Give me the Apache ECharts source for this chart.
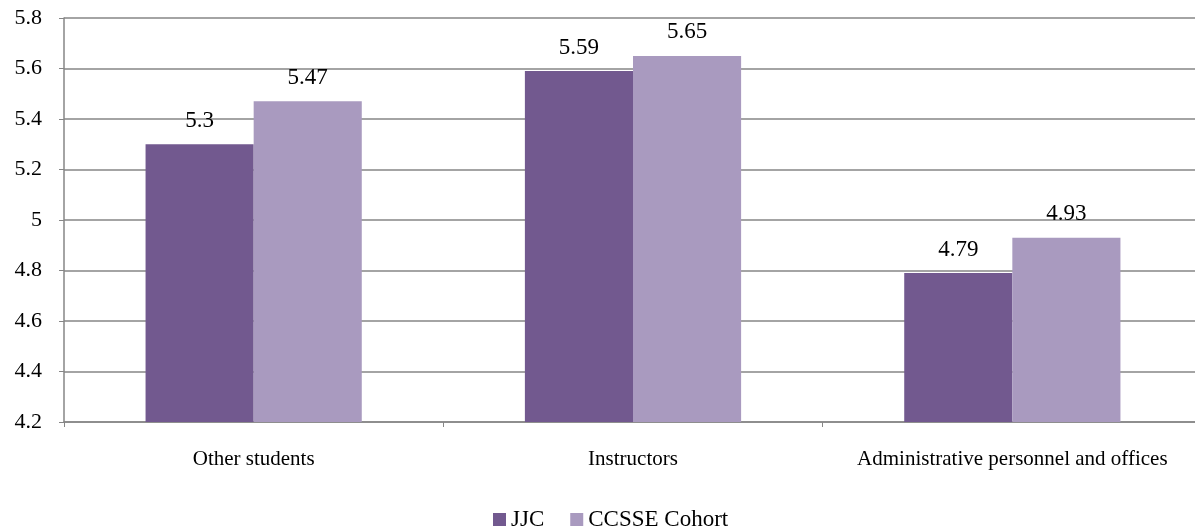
<!DOCTYPE html>
<html>
<head>
<meta charset="utf-8">
<script src="https://cdn.jsdelivr.net/npm/echarts@6/dist/echarts.min.js"></script>
<style>
  html, body { margin: 0; padding: 0; background: #fff; overflow: hidden; }
  /* plot runs slightly past the right edge of the page */
  #chart { width: 1202px; height: 531px; }
</style>
</head>
<body>
<div id="chart"></div>
<script>
// Mean ratings of relationships with people on campus
const categories = ['Other students', 'Instructors', 'Administrative personnel and offices'];
const jjcValues = [5.3, 5.59, 4.79];
const cohortValues = [5.47, 5.65, 4.93];
const seriesNames = ['JJC', 'CCSSE Cohort'];

const FONT = '"Liberation Serif", "Times New Roman", serif';
const GRID = '#868686';

const chart = echarts.init(document.getElementById('chart'));

const labelStyle = {
  show: true,
  position: 'top',
  distance: 12,
  color: '#000',
  fontFamily: FONT,
  fontSize: 23,
  formatter: p => String(p.value)
};

chart.setOption({
  animation: false,
  textStyle: { fontFamily: FONT },
  grid: { left: 64, right: 0, top: 18, bottom: 109, containLabel: false },
  legend: {
    top: 508,
    left: 493,
    padding: 0,
    itemWidth: 13,
    itemHeight: 13,
    itemGap: 26,
    icon: 'rect',
    textStyle: { fontFamily: FONT, fontSize: 23, color: '#000' },
    data: seriesNames
  },
  xAxis: {
    type: 'category',
    data: categories,
    axisLine: { lineStyle: { color: GRID, width: 1.5 } },
    axisTick: { show: true, length: 5, interval: 0, lineStyle: { color: GRID } },
    axisLabel: { interval: 0, color: '#000', fontFamily: FONT, fontSize: 21, margin: 27 }
  },
  yAxis: {
    type: 'value',
    min: 4.2,
    max: 5.8,
    interval: 0.2,
    axisLine: { show: true, lineStyle: { color: GRID, width: 1.5 } },
    axisTick: { show: true, length: 5, lineStyle: { color: GRID } },
    splitLine: { lineStyle: { color: GRID, width: 1.5 } },
    axisLabel: {
      color: '#000', fontFamily: FONT, fontSize: 22, margin: 22,
      formatter: v => String(Math.round(v * 10) / 10)
    }
  },
  series: [
    {
      name: seriesNames[0],
      type: 'bar',
      data: jjcValues,
      itemStyle: { color: '#72598F' },
      barGap: '0%',
      barCategoryGap: '43%',
      label: labelStyle
    },
    {
      name: seriesNames[1],
      type: 'bar',
      data: cohortValues,
      itemStyle: { color: '#A99ABF' },
      barGap: '0%',
      barCategoryGap: '43%',
      label: labelStyle
    }
  ]
});
</script>
</body>
</html>
